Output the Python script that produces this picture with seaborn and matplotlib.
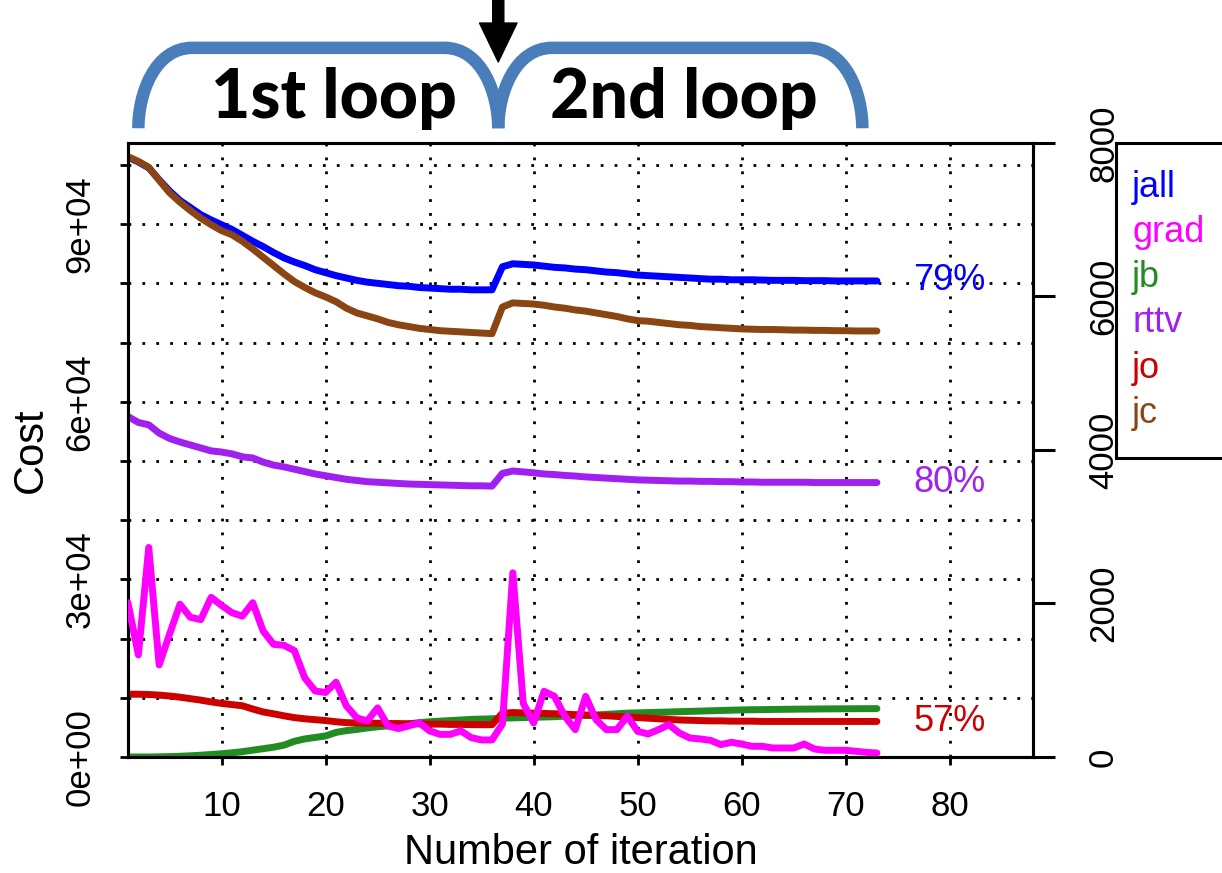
#!/usr/bin/env python3

import numpy as np
import pandas as pd
import matplotlib
matplotlib.use("Agg")
import matplotlib.pyplot as plt
import matplotlib.transforms as mtransforms
from matplotlib.path import Path
from matplotlib.patches import PathPatch
from matplotlib.lines import Line2D
import seaborn as sns

# iterations of the two outer loops (1st: 1-36, 2nd: 37-73)
iters = list(range(1, 74))

# cost terms, left axis
jall = [101300, 100500, 99500, 97500, 95600, 94000, 92800, 91600, 90700, 89900,
        89100, 88100, 87100, 86200, 85200, 84300, 83600, 83000, 82300, 81800,
        81300, 80900, 80500, 80200, 80000, 79800, 79600, 79500, 79300, 79200,
        79100, 79000, 79000, 78900, 78900, 78900, 82800, 83300, 83200, 83100,
        82900, 82700, 82600, 82400, 82300, 82100, 81900, 81800, 81600, 81400,
        81300, 81200, 81100, 81000, 80900, 80800, 80700, 80700, 80600, 80600,
        80600, 80550, 80500, 80500, 80500, 80450, 80450, 80450, 80400, 80400,
        80400, 80400, 80400]
jc = [101400, 100600, 99600, 97400, 95300, 93700, 92300, 91000, 89900, 88900,
      88200, 87100, 85800, 84400, 83000, 81600, 80300, 79300, 78400, 77700,
      76900, 75800, 75000, 74500, 74000, 73400, 73000, 72700, 72400, 72200,
      72000, 71900, 71800, 71700, 71600, 71500, 76000, 76700, 76600, 76500,
      76300, 76000, 75800, 75500, 75300, 75000, 74700, 74400, 74000, 73700,
      73600, 73400, 73200, 73000, 72900, 72700, 72600, 72500, 72400, 72300,
      72250, 72200, 72200, 72150, 72100, 72100, 72050, 72050, 72000, 72000,
      71950, 71950, 71950]
rttv = [57500, 56500, 56100, 54700, 53800, 53200, 52700, 52200, 51700, 51500,
        51200, 50700, 50500, 49800, 49300, 49000, 48600, 48200, 47800, 47500,
        47200, 46900, 46700, 46500, 46400, 46300, 46200, 46100, 46050, 46000,
        45950, 45900, 45850, 45800, 45800, 45750, 47900, 48300, 48150, 48000,
        47800, 47700, 47550, 47450, 47300, 47200, 47100, 47000, 46900, 46800,
        46750, 46700, 46650, 46600, 46600, 46550, 46550, 46500, 46500, 46450,
        46450, 46400, 46400, 46400, 46400, 46400, 46350, 46350, 46350, 46350,
        46350, 46350, 46350]
jo = [10600, 10600, 10550, 10450, 10300, 10100, 9850, 9600, 9300, 9050,
      8850, 8650, 8100, 7600, 7300, 6950, 6650, 6450, 6300, 6150,
      5950, 5800, 5750, 5700, 5700, 5650, 5650, 5600, 5600, 5550,
      5550, 5500, 5500, 5450, 5450, 5450, 7400, 7500, 7450, 7400,
      7350, 7300, 7250, 7150, 7100, 7000, 6950, 6850, 6750, 6650,
      6550, 6450, 6350, 6250, 6200, 6150, 6100, 6100, 6050, 6050,
      6050, 6000, 6000, 6000, 6000, 6000, 6000, 6000, 6000, 6000,
      6000, 6000, 6000]
jb = [0, 0, 0, 30, 60, 120, 200, 300, 420, 550,
      700, 900, 1150, 1400, 1650, 2000, 2650, 3050, 3300, 3550,
      4150, 4450, 4650, 4900, 5100, 5250, 5400, 5600, 5800, 5950,
      6050, 6150, 6250, 6350, 6400, 6450, 6550, 6600, 6650, 6700,
      6750, 6800, 6900, 6950, 7000, 7100, 7200, 7300, 7400, 7450,
      7500, 7550, 7600, 7650, 7700, 7750, 7800, 7850, 7900, 7950,
      7980, 8000, 8030, 8050, 8070, 8090, 8100, 8120, 8130, 8140,
      8150, 8160, 8170]

# gradient norm, right axis
grad = [2010, 1330, 2730, 1200, 1600, 1990, 1820, 1790, 2080, 1975,
        1880, 1835, 2010, 1640, 1468, 1455, 1385, 1030, 860, 840,
        975, 665, 510, 470, 640, 405, 370, 405, 445, 340,
        295, 295, 340, 252, 222, 222, 430, 2400, 700, 443,
        856, 790, 530, 356, 790, 486, 356, 356, 530, 334,
        300, 356, 421, 313, 248, 235, 217, 161, 191, 169,
        139, 139, 117, 117, 117, 169, 104, 87, 87, 87,
        74, 60, 52]

series_names = ["jall", "grad", "jb", "rttv", "jo", "jc"]
series_colors = ["#0000FF", "#FF00FF", "#228B22", "#A020F0", "#CD0000", "#8B4513"]

# reduction labels at the end of some curves
pct_series = ["jall", "rttv", "jo"]
pct_labels = ["79%", "80%", "57%"]

left_ticks = list(range(0, 110000, 10000))
right_ticks = [0, 2000, 4000, 6000, 8000]
x_ticks = [10, 20, 30, 40, 50, 60, 70, 80]

loop_labels = ["1st loop", "2nd loop"]

brace_color = "#4A7EBB"
dotted = (0, (1, 4))


def brace(ax, x0, x1, y0, y1, rx, color):
    # open rounded bracket above the plot, x in data units, y in axes units
    trans = mtransforms.blended_transform_factory(ax.transData, ax.transAxes)
    verts = [(x0, y0), (x0, y1 - 0.075), (x0 + 0.3 * rx, y1), (x0 + rx, y1),
             (x1 - rx, y1),
             (x1 - 0.3 * rx, y1), (x1, y1 - 0.075), (x1, y0)]
    codes = [Path.MOVETO, Path.CURVE4, Path.CURVE4, Path.CURVE4, Path.LINETO,
             Path.CURVE4, Path.CURVE4, Path.CURVE4]
    ax.add_patch(PathPatch(Path(verts, codes), fill=False, ec=color, lw=9,
                           transform=trans, clip_on=False, capstyle="butt"))


def main():
    df = pd.DataFrame({"iteration": iters, "jall": jall, "grad": grad, "jb": jb,
                       "rttv": rttv, "jo": jo, "jc": jc})
    colors = dict(zip(series_names, series_colors))

    sns.set_style("white")
    plt.rcParams["font.family"] = ["Liberation Sans", "DejaVu Sans"]
    for key in ("text.color", "axes.labelcolor", "xtick.color", "ytick.color"):
        plt.rcParams[key] = "black"

    fig = plt.figure(figsize=(12.22, 8.73), dpi=100)
    ax = fig.add_axes([0.1047, 0.1329, 0.7406, 0.7033])
    ax2 = ax.twinx()

    for name in ["jall", "jb", "rttv", "jo", "jc"]:
        sns.lineplot(data=df, x="iteration", y=name, ax=ax, color=colors[name],
                     linewidth=5, zorder=3)
    sns.lineplot(data=df, x="iteration", y="grad", ax=ax2, color=colors["grad"],
                 linewidth=5, zorder=3)

    ax.set_xlim(1, 88)
    ax.set_ylim(0, 103700)
    ax2.set_ylim(0, 8000)

    # grid
    ax.set_axisbelow(True)
    ax.grid(True, color="black", linestyle=dotted, linewidth=2)

    ax.set_xticks(x_ticks)
    ax.set_xticklabels([str(v) for v in x_ticks], fontsize=25)
    ax.set_yticks(left_ticks)
    ax.set_yticklabels([f"{v:.0e}" if v % 30000 == 0 else "" for v in left_ticks],
                       rotation=90, va="center", fontsize=25)
    ax2.set_yticks(right_ticks)
    ax2.set_yticklabels([str(v) for v in right_ticks], rotation=90, va="center",
                        fontsize=25)

    ax.tick_params(axis="y", direction="out", length=5.5, width=2, pad=17, left=True)
    ax.tick_params(axis="x", direction="out", length=6, width=2, pad=18, bottom=True)
    ax2.tick_params(axis="y", direction="out", length=16, width=2.2, pad=23, right=True)

    for a in (ax, ax2):
        for s in a.spines.values():
            s.set_color("black")
            s.set_linewidth(2.2)

    ax.set_xlabel("Number of iteration", fontsize=30, labelpad=7)
    ax.set_ylabel("Cost", fontsize=30, labelpad=9)
    ax2.set_ylabel("")

    # end-of-curve reductions
    for name, txt in zip(pct_series, pct_labels):
        ax.text(80, df[name].iloc[-1], txt, color=colors[name], fontsize=26,
                ha="center", va="center", zorder=4)

    # legend: coloured names only, box runs off the right edge
    handles = [Line2D([], [], linestyle="none") for _ in series_names]
    leg = fig.legend(handles, series_names, loc="upper left", mode="expand",
                     bbox_to_anchor=(0.9133, 0.0, 0.1, 0.8362),
                     bbox_transform=fig.transFigure, borderaxespad=0,
                     handlelength=0, handletextpad=-0.3, labelspacing=0.28,
                     borderpad=0.75, fontsize=26, labelcolor=series_colors,
                     frameon=True, fancybox=False, framealpha=1)
    leg.get_frame().set_edgecolor("black")
    leg.get_frame().set_linewidth(2.2)

    # loop braces and restart arrow
    brace(ax, 2.0, 36.6, 1.024, 1.155, 5.2, brace_color)
    brace(ax, 36.6, 71.6, 1.024, 1.155, 5.2, brace_color)
    trans = mtransforms.blended_transform_factory(ax.transData, ax.transAxes)
    ax.annotate("", xy=(36.6, 1.132), xytext=(36.6, 1.26), xycoords=trans,
                textcoords=trans, annotation_clip=False,
                arrowprops=dict(facecolor="black", edgecolor="black", width=8,
                                headwidth=27, headlength=28, shrink=0))
    for lab, xc in zip(loop_labels, [20.8, 54.4]):
        ax.text(xc, 1.041, lab, transform=trans, ha="center", va="baseline",
                fontsize=49, fontweight=900, family=["Lato", "DejaVu Sans"],
                clip_on=False)

    fig.savefig("out.png", dpi=100, facecolor="white")


if __name__ == '__main__':
    main()
